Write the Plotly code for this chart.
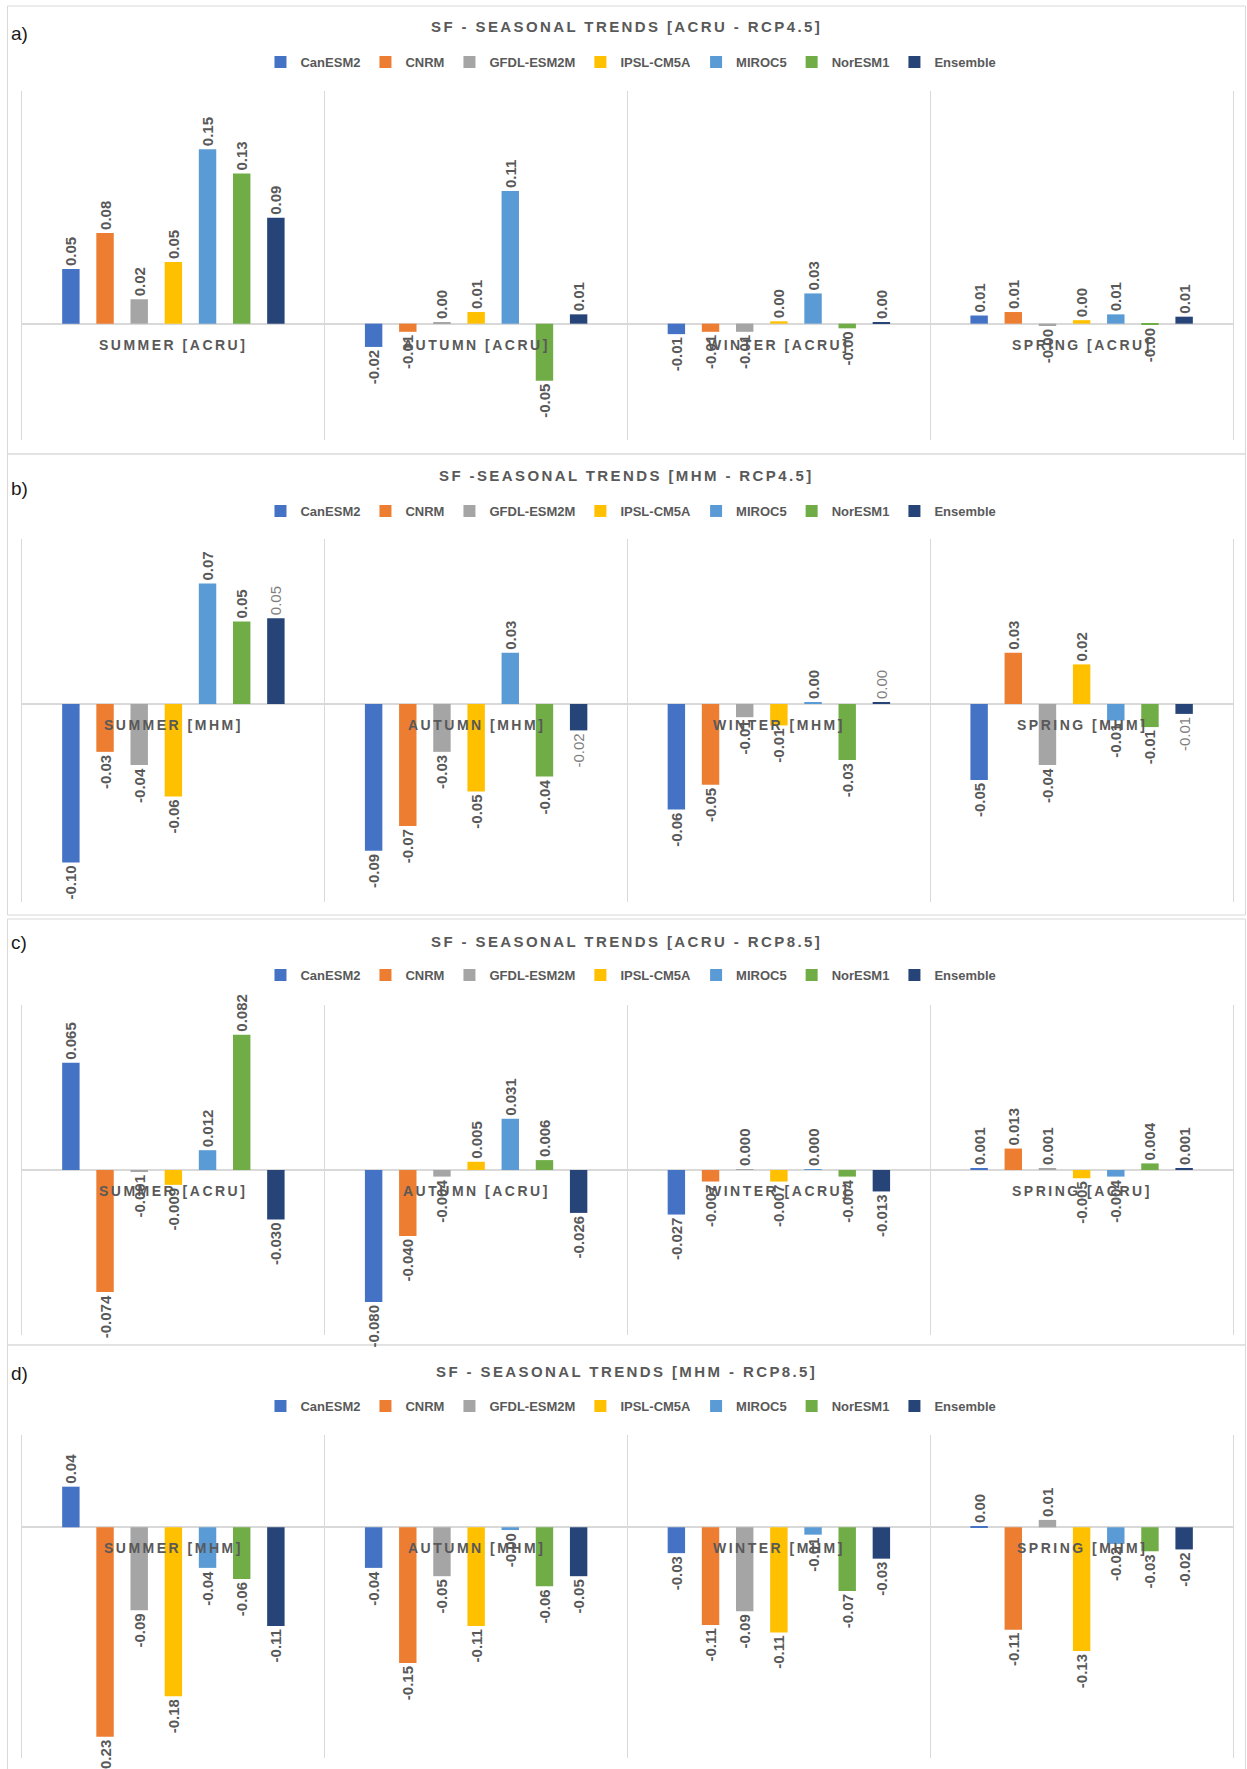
import plotly.graph_objects as go

W, H = 1247, 1769

models = ["CanESM2", "CNRM", "GFDL-ESM2M", "IPSL-CM5A", "MIROC5", "NorESM1", "Ensemble"]
colors = ["#4472C4", "#ED7D31", "#A5A5A5", "#FFC000", "#5B9BD5", "#70AD47", "#264478"]
seasons = ["SUMMER", "AUTUMN", "WINTER", "SPRING"]

# values per model: [summer, autumn, winter, spring]
acru_rcp45 = {
    "CanESM2":    [0.047, -0.020, -0.009, 0.007],
    "CNRM":       [0.078, -0.007, -0.007, 0.010],
    "GFDL-ESM2M": [0.021, 0.001, -0.007, -0.002],
    "IPSL-CM5A":  [0.053, 0.010, 0.002, 0.003],
    "MIROC5":     [0.150, 0.114, 0.026, 0.008],
    "NorESM1":    [0.129, -0.049, -0.004, -0.001],
    "Ensemble":   [0.091, 0.008, 0.001, 0.006],
}
mhm_rcp45 = {
    "CanESM2":    [-0.096, -0.089, -0.064, -0.046],
    "CNRM":       [-0.029, -0.074, -0.049, 0.031],
    "GFDL-ESM2M": [-0.037, -0.029, -0.008, -0.037],
    "IPSL-CM5A":  [-0.056, -0.053, -0.013, 0.024],
    "MIROC5":     [0.073, 0.031, 0.001, -0.010],
    "NorESM1":    [0.050, -0.044, -0.034, -0.014],
    "Ensemble":   [0.052, -0.016, 0.001, -0.006],
}
acru_rcp85 = {
    "CanESM2":    [0.065, -0.080, -0.027, 0.0008],
    "CNRM":       [-0.074, -0.040, -0.007, 0.013],
    "GFDL-ESM2M": [-0.001, -0.004, 0.0004, 0.0012],
    "IPSL-CM5A":  [-0.009, 0.005, -0.007, -0.005],
    "MIROC5":     [0.012, 0.031, 0.0004, -0.004],
    "NorESM1":    [0.082, 0.006, -0.004, 0.004],
    "Ensemble":   [-0.030, -0.026, -0.013, 0.0008],
}
mhm_rcp85 = {
    "CanESM2":    [0.044, -0.044, -0.028, 0.001],
    "CNRM":       [-0.227, -0.147, -0.106, -0.111],
    "GFDL-ESM2M": [-0.090, -0.053, -0.091, 0.008],
    "IPSL-CM5A":  [-0.183, -0.107, -0.114, -0.134],
    "MIROC5":     [-0.044, -0.003, -0.008, -0.018],
    "NorESM1":    [-0.056, -0.064, -0.069, -0.026],
    "Ensemble":   [-0.107, -0.053, -0.034, -0.024],
}

panel_data = [acru_rcp45, mhm_rcp45, acru_rcp85, mhm_rcp85]
panel_titles = [
    "SF - SEASONAL TRENDS [ACRU - RCP4.5]",
    "SF -SEASONAL TRENDS [MHM - RCP4.5]",
    "SF - SEASONAL TRENDS [ACRU - RCP8.5]",
    "SF - SEASONAL TRENDS [MHM - RCP8.5]",
]
panel_letters = ["a)", "b)", "c)", "d)"]
panel_hydro = ["ACRU", "MHM", "ACRU", "MHM"]
panel_ranges = [[-0.1, 0.2], [-0.12, 0.10], [-0.1, 0.1], [-0.25, 0.1]]
label_decimals = [2, 2, 3, 2]

# pixel layout
plot_px = [(91, 440), (539, 902), (1005, 1335), (1435, 1758)]
title_px = [27, 476, 941, 1371]
legend_px = [62, 511, 975, 1406]
letter_px = [33, 489, 943, 1373]
box_px = [(6, 454), (454, 915), (919, 1345), (1345, 1800)]
plot_x = (22, 1233)

GRAY = "#595959"
LINE = "#d9d9d9"
FONT = "Liberation Sans"


def fy(p):
    return 1 - p / H


def fx(p):
    return p / W


fig = go.Figure()
annotations = []
shapes = []
layout = {}

for i, data in enumerate(panel_data):
    sfx = "" if i == 0 else str(i + 1)
    xref, yref = "x" + sfx, "y" + sfx
    leg = "legend" + sfx
    cats = [f"{s} [{panel_hydro[i]}]" for s in seasons]
    for m, c in zip(models, colors):
        vals = data[m]
        txt = [f"{v:.{label_decimals[i]}f}" for v in vals]
        light = (i == 1 and m == "Ensemble")
        fig.add_trace(go.Bar(
            x=cats, y=vals, name=m, marker=dict(color=c, line=dict(width=0)),
            text=txt, textposition="outside", textangle=-90,
            constraintext="none", cliponaxis=False,
            textfont=dict(family=FONT, size=15, color="#7f7f7f" if light else GRAY,
                          weight="normal" if light else "bold"),
            xaxis=xref, yaxis=yref, legend=leg, hoverinfo="skip",
        ))
    layout["xaxis" + sfx] = dict(
        domain=[fx(plot_x[0]), fx(plot_x[1])], anchor=yref, type="category",
        showticklabels=False, ticks="", showgrid=True, tickson="boundaries",
        gridcolor=LINE, gridwidth=1, showline=False, zeroline=False,
        range=[-0.5, 3.5], fixedrange=True,
    )
    layout["yaxis" + sfx] = dict(
        domain=[fy(plot_px[i][1]), fy(plot_px[i][0])], anchor=xref,
        range=panel_ranges[i], showticklabels=False, ticks="", showgrid=False,
        zeroline=True, zerolinecolor=LINE, zerolinewidth=2,
        showline=True, mirror=True, linecolor=LINE, linewidth=1,
        fixedrange=True,
    )
    layout[leg] = dict(
        orientation="h", x=0.506, xanchor="center", y=fy(legend_px[i]),
        yanchor="middle", bgcolor="rgba(0,0,0,0)",
        font=dict(family=FONT, size=13, color=GRAY, weight="bold"),
        itemclick=False, itemdoubleclick=False,
    )
    for cat in cats:
        annotations.append(dict(
            x=cat, y=0, xref=xref, yref=yref, yshift=-21, showarrow=False,
            yanchor="middle", xanchor="center",
            text=f"<span style='letter-spacing:2.5px'>{cat}</span>",
            font=dict(family=FONT, size=14, color=GRAY, weight="bold"),
        ))
    annotations.append(dict(
        x=fx(626), y=fy(title_px[i]), xref="paper", yref="paper", showarrow=False,
        xanchor="center", yanchor="middle",
        text=f"<span style='letter-spacing:2.4px'>{panel_titles[i]}</span>",
        font=dict(family=FONT, size=15, color=GRAY, weight="bold"),
    ))
    annotations.append(dict(
        x=fx(9), y=fy(letter_px[i]), xref="paper", yref="paper", showarrow=False,
        xanchor="left", yanchor="middle", text=panel_letters[i],
        font=dict(family=FONT, size=19, color="#1a1a1a"),
    ))
    shapes.append(dict(
        type="rect", xref="paper", yref="paper",
        x0=fx(7.5), x1=fx(1245.5), y0=fy(box_px[i][1]), y1=fy(box_px[i][0]),
        line=dict(color=LINE, width=1), fillcolor="rgba(0,0,0,0)", layer="below",
    ))

fig.update_layout(
    width=W, height=H, autosize=False,
    margin=dict(l=0, r=0, t=0, b=0),
    paper_bgcolor="white", plot_bgcolor="white",
    barmode="group", bargap=0.21, bargroupgap=0.49,
    annotations=annotations, shapes=shapes,
    **layout,
)

fig.write_html("out.html", config={"displayModeBar": False},
               post_script="document.body.style.margin='0px';")
